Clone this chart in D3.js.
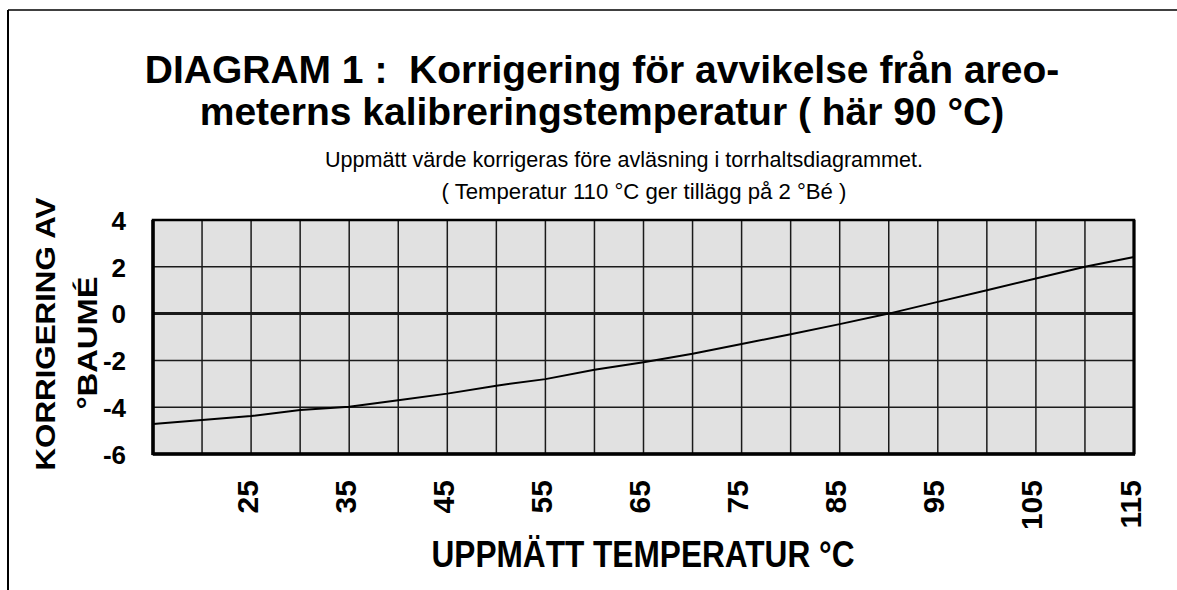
<!DOCTYPE html>
<html>
<head>
<meta charset="utf-8">
<script src="https://cdn.jsdelivr.net/npm/d3@7"></script>
<style>
  html, body { margin: 0; padding: 0; background: #fff; }
  svg { display: block; font-family: "Liberation Sans", Arial, sans-serif; }
</style>
</head>
<body>
<svg id="chart" width="1177" height="590"></svg>
<script>
// ---- data ----
const temperatures = [15, 20, 25, 30, 35, 40, 45, 50, 55, 60, 65, 70, 75, 80, 85, 90, 95, 100, 105, 110, 115];
const corrections  = [-4.72, -4.55, -4.38, -4.12, -3.98, -3.7, -3.42, -3.08, -2.8, -2.4, -2.08, -1.72, -1.3, -0.88, -0.45, 0.0, 0.5, 1.0, 1.5, 2.0, 2.42];
const xTickLabels = [25, 35, 45, 55, 65, 75, 85, 95, 105, 115];
const xGridValues = [20, 25, 30, 35, 40, 45, 50, 55, 60, 65, 70, 75, 80, 85, 90, 95, 100, 105, 110];
const yTickLabels = [4, 2, 0, -2, -4, -6];
const yGridValues = [2, 0, -2, -4];
const titleLines = ["DIAGRAM 1 :  Korrigering för avvikelse från areo-", "meterns kalibreringstemperatur ( här 90 °C)"];
const subtitleLines = ["Uppmätt värde korrigeras före avläsning i torrhaltsdiagrammet.", "( Temperatur 110 °C ger tillägg på 2 °Bé )"];
const yTitleLines = ["KORRIGERING AV", "°BAUMÉ"];
const xTitle = "UPPMÄTT TEMPERATUR °C";

// ---- layout ----
const svg = d3.select("#chart");
const plot = { left: 153, right: 1134, top: 220, bottom: 454 };

const x = d3.scaleLinear().domain([15, 115]).range([plot.left, plot.right]);
const y = d3.scaleLinear().domain([-6, 4]).range([plot.bottom, plot.top]);

// outer frame (top + left lines)
svg.append("line").attr("x1", 8).attr("y1", 10).attr("x2", 1177).attr("y2", 10)
  .attr("stroke", "#000").attr("stroke-width", 1.5);
svg.append("line").attr("x1", 8).attr("y1", 10).attr("x2", 8).attr("y2", 590)
  .attr("stroke", "#000").attr("stroke-width", 2);

// titles
svg.append("g").selectAll("text").data(titleLines).join("text")
  .attr("x", 602).attr("y", (d, i) => 83 + i * 42)
  .attr("text-anchor", "middle").attr("font-size", 39).attr("font-weight", "bold")
  .attr("xml:space", "preserve").style("white-space", "pre")
  .text(d => d);

const subCenters = [624, 644];
const subLengths = [598, 405];
svg.append("g").selectAll("text").data(subtitleLines).join("text")
  .attr("x", (d, i) => subCenters[i]).attr("y", (d, i) => 167 + i * 32)
  .attr("text-anchor", "middle").attr("font-size", 21.5)
  .attr("textLength", (d, i) => subLengths[i]).attr("lengthAdjust", "spacingAndGlyphs")
  .text(d => d);

// plot background
svg.append("rect").attr("x", plot.left).attr("y", plot.top)
  .attr("width", plot.right - plot.left).attr("height", plot.bottom - plot.top)
  .attr("fill", "#e1e1e1");

// grid
const grid = svg.append("g").attr("stroke", "#1a1a1a").attr("stroke-width", 1.5);
grid.selectAll("line.v").data(xGridValues).join("line").attr("class", "v")
  .attr("x1", d => x(d)).attr("x2", d => x(d)).attr("y1", plot.top).attr("y2", plot.bottom);
grid.selectAll("line.h").data(yGridValues).join("line").attr("class", "h")
  .attr("x1", plot.left).attr("x2", plot.right).attr("y1", d => y(d)).attr("y2", d => y(d))
  .attr("stroke-width", d => d === 0 ? 3 : 1.5);

// curve
const line = d3.line().x((d, i) => x(temperatures[i])).y(d => y(d));
svg.append("path").datum(corrections).attr("d", line)
  .attr("fill", "none").attr("stroke", "#000").attr("stroke-width", 2);

// frame
svg.append("rect").attr("x", plot.left).attr("y", plot.top)
  .attr("width", plot.right - plot.left).attr("height", plot.bottom - plot.top)
  .attr("fill", "none").attr("stroke", "#000").attr("stroke-width", 2.5);
svg.append("line").attr("x1", plot.left).attr("x2", plot.left).attr("y1", plot.top).attr("y2", plot.bottom + 1)
  .attr("stroke", "#000").attr("stroke-width", 3.5);
svg.append("line").attr("x1", plot.left).attr("x2", plot.right + 1).attr("y1", plot.bottom).attr("y2", plot.bottom)
  .attr("stroke", "#000").attr("stroke-width", 3.5);
svg.append("line").attr("x1", plot.right).attr("x2", plot.right).attr("y1", plot.top).attr("y2", plot.bottom)
  .attr("stroke", "#000").attr("stroke-width", 3);

// y axis labels
const yAxis = d3.axisLeft(y).tickValues(yTickLabels).tickSize(0).tickPadding(0).tickFormat(d3.format("d"));
const yg = svg.append("g").attr("transform", "translate(126,0)").call(yAxis);
yg.select(".domain").remove();
yg.selectAll("text").attr("font-size", 26).attr("font-weight", "bold").attr("fill", "#000")
  .attr("font-family", "Liberation Sans, Arial, sans-serif").attr("dy", "0.36em")
  .text(d => d < 0 ? "-" + Math.abs(d) : d);

// x axis labels (rotated)
const xAxis = d3.axisBottom(x).tickValues(xTickLabels).tickSize(0).tickPadding(0).tickFormat(d3.format("d"));
const xg = svg.append("g").attr("transform", `translate(0,${plot.bottom})`).call(xAxis);
xg.select(".domain").remove();
xg.selectAll("text").attr("font-size", 30).attr("font-weight", "bold").attr("fill", "#000")
  .attr("font-family", "Liberation Sans, Arial, sans-serif")
  .attr("text-anchor", "end").attr("transform", "translate(6,26) rotate(-90)")
  .attr("x", 0).attr("y", 0).attr("dy", 0);

// x title
svg.append("text").attr("x", 643).attr("y", 567).attr("text-anchor", "middle")
  .attr("font-size", 36).attr("font-weight", "bold")
  .attr("textLength", 423).attr("lengthAdjust", "spacingAndGlyphs").text(xTitle);

// y title
const yTitleBase = [55, 97];
const yTitleShift = [0, -9];
const yTitleLen = [273, 133];
svg.append("g").attr("transform", "translate(0,334) rotate(-90)")
  .selectAll("text").data(yTitleLines).join("text")
  .attr("x", (d, i) => yTitleShift[i]).attr("y", (d, i) => yTitleBase[i])
  .attr("text-anchor", "middle").attr("font-size", 28).attr("font-weight", "bold")
  .attr("textLength", (d, i) => yTitleLen[i]).attr("lengthAdjust", "spacingAndGlyphs")
  .text(d => d);
</script>
</body>
</html>
